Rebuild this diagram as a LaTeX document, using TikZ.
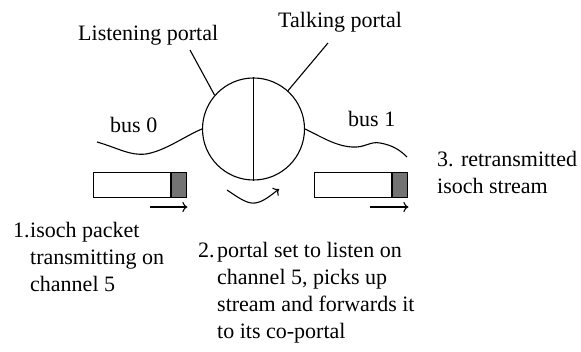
\documentclass[tikz,border=0pt]{standalone}
\usetikzlibrary{arrows.meta}
\usepackage{fontspec}
\setmainfont{Liberation Serif}
\begin{document}
\begin{tikzpicture}[x=1pt,y=-1pt,
  lbl/.style={inner sep=0pt,anchor=base west,font=\fontsize{22}{27}\selectfont,align=left},
  wire/.style={line width=1.1pt},
  pktbody/.style={draw,line width=1.2pt,minimum width=77pt,minimum height=25pt,inner sep=0pt,anchor=north west},
  pkttail/.style={draw,line width=1.2pt,fill=gray!90!black,minimum width=15pt,minimum height=25pt,inner sep=0pt,anchor=north west},
  flow/.style={line width=1.1pt,-{To[length=5pt,width=10pt]}}]
\useasboundingbox (0,0) rectangle (581,352);

% the bridge: two portals sharing one node
\node[draw,circle,line width=1.1pt,minimum size=102pt,inner sep=0pt] (portal) at (253.5,129) {};
\draw[line width=1.1pt] (portal.north) -- (portal.south);

% portal labels and leaders
\node[lbl] (lp) at (78,41) {Listening portal};
\node[lbl] (tp) at (278,28) {Talking portal};
\coordinate (lpend) at (190,50);
\coordinate (tpend) at (328,43);
\draw[wire] (lpend) -- (portal.139);
\draw[wire] (tpend) -- (portal.48);

% buses
\node[lbl] (b0) at (110,133) {bus 0};
\node[lbl] (b1) at (348,127) {bus 1};
\coordinate (w0) at (97,142);
\coordinate (w1) at (407,157);
\draw[wire] (w0) .. controls (118,148) and (130,156) .. (146,154)
  .. controls (165,151) and (185,136) .. (portal.west);
\draw[wire] (portal.east) .. controls (320,136) and (335,146) .. (352,147)
  .. controls (365,148) and (370,141) .. (380,143)
  .. controls (392,145) and (400,150) .. (w1);

% packets
\node[pktbody] (p0) at (93,172) {};
\node[pkttail] (p0t) at (p0.north east) {};
\node[pktbody] (p1) at (314,172) {};
\node[pkttail] (p1t) at (p1.north east) {};

% direction of travel
\coordinate (a0s) at (150,207);
\coordinate (a1s) at (370,207);
\draw[flow] (a0s) -- (a0s -| p0t.east);
\draw[flow] (a1s) -- (a1s -| p1t.east);
\coordinate (fs) at (227,190);
\coordinate (fe) at (279,189);
\draw[flow] (fs) .. controls (240,199) and (248,204) .. (255,203)
  .. controls (263,202) and (270,196) .. (fe);

% step descriptions (multi-line nodes sit on their last baseline)
\node[lbl] (n1) at (13,238) {1.};
\node[lbl] (t1) at (30,292) {isoch packet\\transmitting on\\channel 5};
\node[lbl] (n2) at (198,258) {2.};
\node[lbl] (t2) at (217,339) {portal set to listen on\\channel 5, picks up\\stream and forwards it\\to its co-portal};
\node[lbl] (t3) at (437,194) {3. retransmitted\\isoch stream};
\end{tikzpicture}
\end{document}
